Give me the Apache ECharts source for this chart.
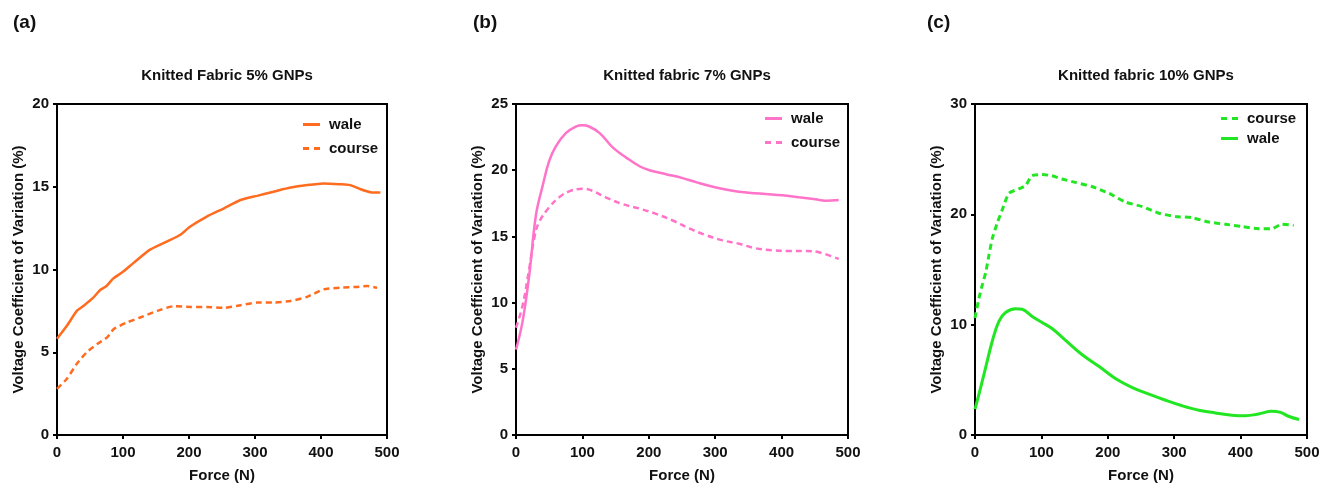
<!DOCTYPE html>
<html>
<head>
<meta charset="utf-8">
<script src="https://cdn.jsdelivr.net/npm/echarts@6/dist/echarts.min.js"></script>
<style>
html,body{margin:0;padding:0;background:#fff;}
#c{width:1332px;height:488px;}
</style>
</head>
<body>
<div id="c"></div>
<script>
// ---- Data ----
const xTicks = [0, 100, 200, 300, 400, 500];

const forceA_wale = [0,15,30,40,55,65,75,85,100,116,141,167,187,202,227,253,278,303,328,354,379,404,429,444,460,475,490];
const waleA       = [5.82,6.6,7.5,7.8,8.3,8.75,9.0,9.45,9.86,10.4,11.2,11.7,12.1,12.6,13.2,13.7,14.2,14.45,14.7,14.95,15.1,15.2,15.15,15.1,14.85,14.67,14.65];
const forceA_course = [0,15,30,45,61,76,86,106,126,152,177,202,227,253,278,303,328,354,379,404,429,455,470,485];
const courseA       = [2.79,3.4,4.3,5.0,5.5,5.9,6.4,6.8,7.1,7.5,7.78,7.74,7.74,7.68,7.84,8.0,8.0,8.1,8.35,8.8,8.9,8.95,9.0,8.9];

const forceB_wale = [0,10,20,30,40,50,60,75,90,100,110,126,146,166,186,201,226,251,271,301,326,351,376,401,426,451,466,486];
const waleB       = [6.45,8.6,12.1,16.6,18.8,20.7,21.8,22.8,23.3,23.4,23.3,22.8,21.7,20.95,20.3,20.0,19.7,19.4,19.1,18.7,18.45,18.3,18.2,18.1,17.95,17.8,17.7,17.75];
const forceB_course = [0,10,20,28,35,50,65,80,100,115,135,160,186,211,236,261,286,311,336,361,386,411,436,456,486];
const courseB       = [8.1,9.8,12.6,15.0,16.1,17.2,17.95,18.4,18.6,18.45,17.95,17.45,17.1,16.7,16.2,15.6,15.1,14.7,14.45,14.1,13.95,13.9,13.9,13.8,13.3];

const forceC_course = [0,6,11,16,21,26,34,41,51,66,76,86,101,116,131,151,177,202,227,252,277,302,327,352,377,402,427,447,462,480];
const courseC       = [10.6,12.4,13.6,14.7,16.3,17.8,19.3,20.4,21.9,22.3,22.6,23.5,23.6,23.5,23.2,22.9,22.5,21.9,21.1,20.7,20.1,19.8,19.7,19.3,19.1,18.9,18.7,18.7,19.1,19.0];
const forceC_wale = [0,6,16,26,36,46,61,71,86,101,116,136,161,187,212,237,262,287,312,337,362,387,407,427,447,460,472,488];
const waleC       = [2.35,3.7,6.1,8.5,10.3,11.1,11.45,11.4,10.75,10.2,9.65,8.6,7.3,6.2,5.1,4.3,3.7,3.15,2.65,2.25,2.0,1.8,1.75,1.9,2.15,2.05,1.7,1.4];

const titles = ['Knitted Fabric 5% GNPs', 'Knitted fabric 7% GNPs', 'Knitted fabric 10% GNPs'];
const panelLabels = ['(a)', '(b)', '(c)'];
const yMax = [20, 25, 30];
const yInterval = [5, 5, 10];

// ---- Layout ----
const zip = (xs, ys) => xs.map((x, i) => [x, ys[i]]);
const grids = [
  {left: 57, top: 104, width: 330, height: 331},
  {left: 516, top: 104, width: 332, height: 333},
  {left: 975, top: 104, width: 332, height: 333}
];
const FONT = '"Liberation Sans", Arial, sans-serif';
const colors = ['#FF6C1F', '#FF73C8', '#22E622'];
const SOLID_ICON = 'path://M0,0h17v3h-17z';
const DASH_ICON = 'path://M0,0h6v3h-6z M11,0h6v3h-6z';

const xAxes = grids.map((g, i) => ({
  type: 'value', gridIndex: i, min: 0, max: 500, interval: 100,
  name: 'Force (N)', nameLocation: 'middle', nameGap: 33,
  nameTextStyle: {fontFamily: FONT, fontWeight: 'bold', fontSize: 15, color: '#111'},
  axisLine: {show: true, onZero: false, lineStyle: {color: '#000', width: 2}},
  axisTick: {show: true, length: 4, lineStyle: {color: '#000', width: 2}},
  axisLabel: {fontFamily: FONT, fontWeight: 'bold', fontSize: 15, color: '#111', margin: 10},
  splitLine: {show: false}
}));
const yAxes = grids.map((g, i) => ({
  type: 'value', gridIndex: i, min: 0, max: yMax[i], interval: yInterval[i],
  name: 'Voltage Coefficient of Variation (%)', nameLocation: 'middle', nameGap: 31,
  nameTextStyle: {fontFamily: FONT, fontWeight: 'bold', fontSize: 15, color: '#111'},
  axisLine: {show: true, onZero: false, lineStyle: {color: '#000', width: 2}},
  axisTick: {show: true, length: 4, lineStyle: {color: '#000', width: 2}},
  axisLabel: {fontFamily: FONT, fontWeight: 'bold', fontSize: 15, color: '#111', margin: 8},
  splitLine: {show: false}
}));

function lineSeries(name, idx, data, dashed, width, smooth) {
  return {
    type: 'line', name: name + '|' + idx, xAxisIndex: idx, yAxisIndex: idx,
    data: data, showSymbol: false, symbol: 'none', smooth: smooth,
    lineStyle: {color: colors[idx], width: width, type: dashed ? [6, 4] : 'solid'},
    itemStyle: {color: colors[idx]},
    animation: false
  };
}

const series = [
  lineSeries('wale', 0, zip(forceA_wale, waleA), false, 2.5, 0.2),
  lineSeries('course', 0, zip(forceA_course, courseA), true, 2.5, 0.2),
  lineSeries('wale', 1, zip(forceB_wale, waleB), false, 2.5, 0.4),
  lineSeries('course', 1, zip(forceB_course, courseB), true, 2.5, 0.4),
  lineSeries('course', 2, zip(forceC_course, courseC), true, 3, 0.2),
  lineSeries('wale', 2, zip(forceC_wale, waleC), false, 3, 0.4)
];

const legendPos = [
  {left: 303, top: 117, gap: 9},
  {left: 765, top: 111, gap: 9},
  {left: 1221, top: 111, gap: 5}
];
const legendOrder = [['wale', 'course'], ['wale', 'course'], ['course', 'wale']];

const legends = legendPos.map((p, i) => ({
  orient: 'vertical', left: p.left, top: p.top, padding: 0,
  itemWidth: 17, itemHeight: 3, itemGap: p.gap,
  data: legendOrder[i].map(n => ({name: n + '|' + i, icon: n === 'course' ? DASH_ICON : SOLID_ICON,
    itemStyle: {color: colors[i]}})),
  formatter: name => name.split('|')[0],
  selectedMode: false,
  textStyle: {fontFamily: FONT, fontWeight: 'bold', fontSize: 15, color: '#111', padding: [0, 0, 0, 4]}
}));

const titleComps = grids.map((g, i) => ({
  text: titles[i], left: g.left + g.width / 2, top: 63, textAlign: 'center',
  textStyle: {fontFamily: FONT, fontWeight: 'bold', fontSize: 15, color: '#111'}
})).concat([8, 468, 922].map((x, i) => ({
  text: panelLabels[i], left: x, top: 8,
  textStyle: {fontFamily: FONT, fontWeight: 'bold', fontSize: 19, color: '#111'}
})));

const chart = echarts.init(document.getElementById('c'), null, {renderer: 'canvas'});
chart.setOption({
  backgroundColor: '#fff',
  animation: false,
  title: titleComps,
  grid: grids.map(g => Object.assign({show: true, borderColor: '#000', borderWidth: 2, backgroundColor: 'transparent'}, g)),
  xAxis: xAxes,
  yAxis: yAxes,
  legend: legends,
  series: series
});
</script>
</body>
</html>
